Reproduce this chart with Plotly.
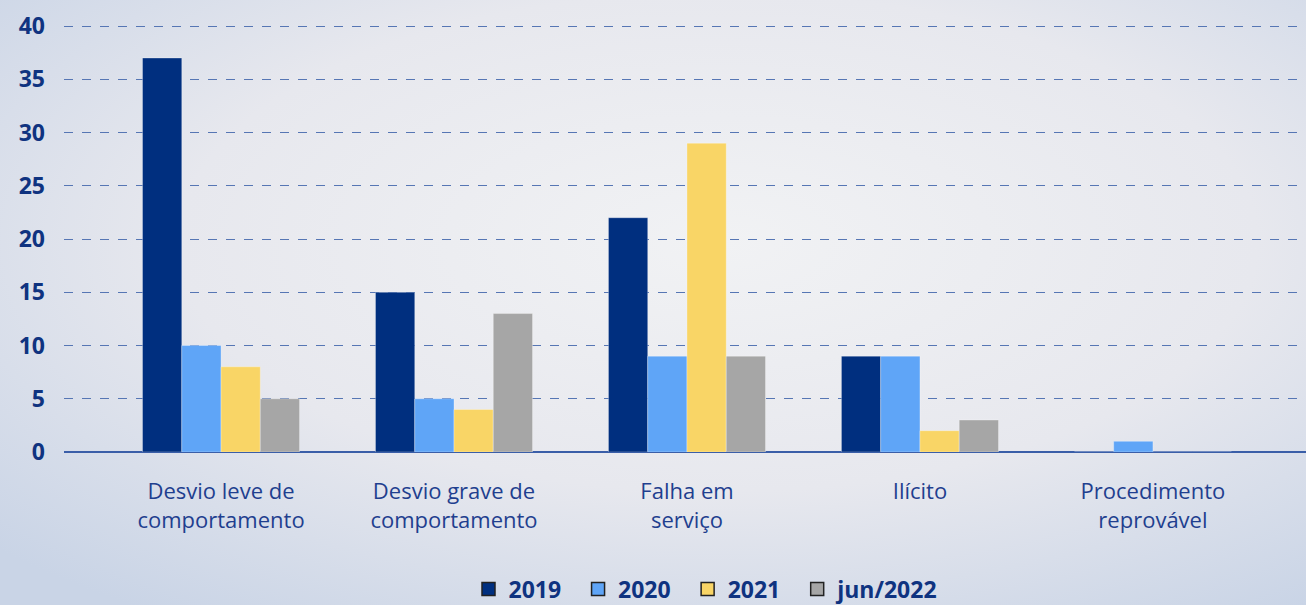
import plotly.graph_objects as go

categories = [
    "Desvio leve de<br>comportamento",
    "Desvio grave de<br>comportamento",
    "Falha em<br>serviço",
    "Ilícito",
    "Procedimento<br>reprovável",
]
series_names = ["2019", "2020", "2021", "jun/2022"]
values_2019 = [37, 15, 22, 9, 0]
values_2020 = [10, 5, 9, 9, 1]
values_2021 = [8, 4, 29, 2, 0]
values_jun2022 = [5, 13, 9, 3, 0]
y_ticks = [0, 5, 10, 15, 20, 25, 30, 35, 40]

colors = ["#002f7f", "#5fa5f7", "#f9d566", "#a6a6a6"]
navy = "#0f3380"

# soft radial backdrop like the original slide
bg_svg = (
    "data:image/svg+xml;utf8,"
    "<svg xmlns='http://www.w3.org/2000/svg' width='1306' height='605'>"
    "<defs><radialGradient id='g' cx='55%25' cy='40%25' r='75%25'>"
    "<stop offset='0' stop-color='%23f1f2f4'/>"
    "<stop offset='0.55' stop-color='%23e7e8ee'/>"
    "<stop offset='1' stop-color='%23c9d4e6'/>"
    "</radialGradient></defs>"
    "<rect width='1306' height='605' fill='url(%23g)'/></svg>"
)

L, T, B = 64, 25, 153
W, H = 1306, 605
pw, ph = W - L, H - T - B

fig = go.Figure()
for name, vals, col in zip(
    series_names, [values_2019, values_2020, values_2021, values_jun2022], colors
):
    fig.add_trace(
        go.Bar(
            x=categories,
            y=vals,
            name=name,
            showlegend=False,
            marker=dict(color=col, line=dict(color="rgba(255,255,255,0.6)", width=0.5)),
        )
    )
# legend-only entries with the dark outlined squares
for name, col in zip(series_names, colors):
    fig.add_trace(
        go.Scatter(
            x=[None],
            y=[None],
            mode="markers",
            name=f"<b>{name}</b>&nbsp;&nbsp;",
            marker=dict(symbol="square", size=13, color=col,
                        line=dict(color="#222222", width=1.5)),
        )
    )

fig.update_layout(
    width=W,
    height=H,
    barmode="group",
    bargap=0.326,
    bargroupgap=0.0,
    paper_bgcolor="#e6e8ee",
    plot_bgcolor="rgba(0,0,0,0)",
    margin=dict(l=L, r=0, t=T, b=B, autoexpand=False),
    font=dict(family="Open Sans", color=navy),
    images=[
        dict(
            source=bg_svg,
            xref="paper",
            yref="paper",
            x=-L / pw,
            y=1 + T / ph,
            sizex=W / pw,
            sizey=H / ph,
            sizing="stretch",
            xanchor="left",
            yanchor="top",
            layer="below",
        )
    ],
    legend=dict(
        orientation="h",
        x=(712 - L) / pw,
        xanchor="center",
        y=(452 - 589) / ph,
        yanchor="middle",
        font=dict(size=23, color=navy, family="Open Sans"),
        bgcolor="rgba(0,0,0,0)",
        itemwidth=30,
        traceorder="normal",
    ),
)

fig.update_xaxes(
    range=[-0.674, 4.657],
    showgrid=False,
    showline=False,
    ticks="",
    ticklabelstandoff=24,
    tickfont=dict(size=22, color="#1f3f8f", family="Open Sans"),
)
fig.update_yaxes(
    range=[0, 40.1],
    tickvals=y_ticks,
    ticktext=[f"<b>{v}</b>" for v in y_ticks],
    showgrid=True,
    gridcolor="#5676b4",
    griddash="dash",
    gridwidth=1,
    zeroline=True,
    zerolinecolor="#3a5ea8",
    zerolinewidth=2,
    ticklabelstandoff=18,
    tickfont=dict(size=23, color=navy, family="Open Sans"),
)

fig.write_html(
    "out.html",
    config=dict(displayModeBar=False),
    post_script="document.body.style.margin='0';document.body.style.overflow='hidden';",
)
